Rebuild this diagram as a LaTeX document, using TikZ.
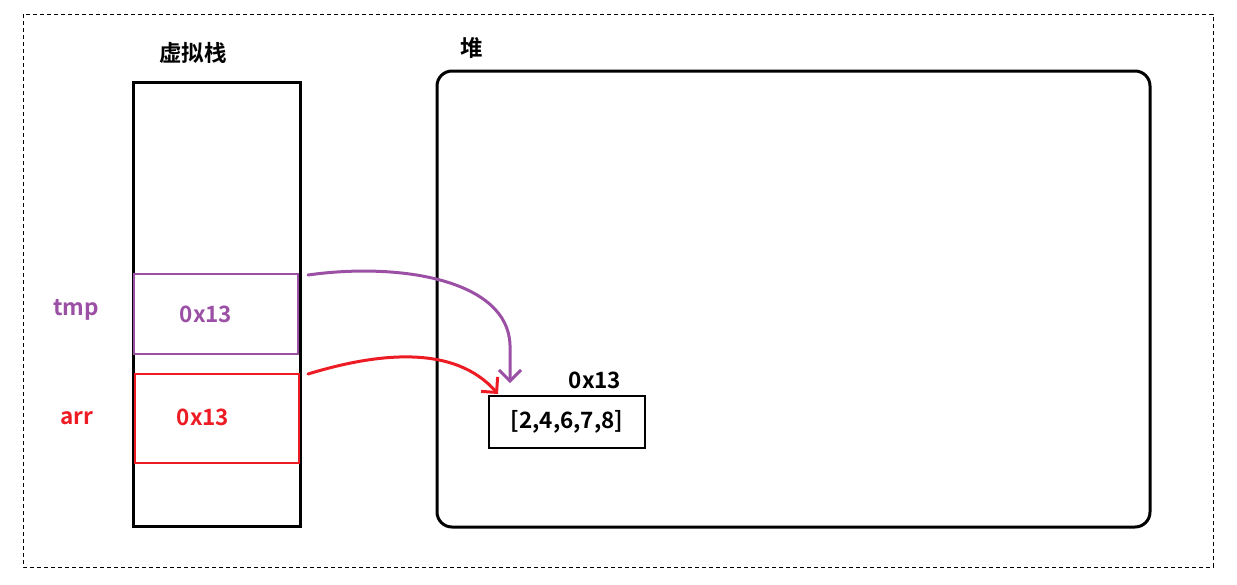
\documentclass[tikz,border=0pt]{standalone}
\usepackage{fontspec}
\setmainfont{Noto Sans CJK SC}[BoldFont={* Bold}]
\usetikzlibrary{arrows.meta}
\definecolor{vpurple}{RGB}{155,80,165}
\definecolor{vred}{RGB}{237,28,36}
\tikzset{
  lbl/.style={font=\fontsize{22.5}{26}\selectfont\bfseries, inner sep=0pt},
  slot/.style={draw, line width=2pt, minimum width=164pt, minimum height=80pt, inner sep=0pt},
  link/.style={line width=3pt, line cap=round, -{Straight Barb[length=11pt,width=22pt,line width=3pt]}}
}
\begin{document}
\begin{tikzpicture}[x=1pt,y=-1pt]
\useasboundingbox (0,0) rectangle (1237,584);
\draw[dashed, line width=0.8pt, dash pattern=on 4pt off 3pt] (23,14) rectangle (1213,567);
% stack
\node[lbl] (stacktitle) at (193,53) {虚拟栈};
\draw[line width=3pt] (133,82) rectangle (300,526);
\node[slot, draw=vpurple] (tmpbox) at (216,314) {};
\node[slot, draw=vred, minimum height=89pt] (arrbox) at (216.5,418.5) {};
\node[lbl, text=vpurple] at (206,314) {0x13};
\node[lbl, text=vred] at (203,417) {0x13};
\node[lbl, text=vpurple] (tmplbl) at (76,310) {tmp};
\node[lbl, text=vred] (arrlbl) at (77,418) {arr};
% heap
\node[lbl] (heaptitle) at (472,48) {堆};
\draw[line width=3pt, rounded corners=15pt] (437,71) rectangle (1150,527);
\node[draw, line width=2.5pt, minimum width=156pt, minimum height=52pt, inner sep=0pt, font=\fontsize{22.5}{26}\selectfont\bfseries] (val) at (567,422) {[2,4,6,7,8]};
\node[lbl] (addr) at (595,380) {0x13};
% connectors
\coordinate (ps) at (308,275);
\coordinate (pe) at (510,383);
\coordinate (rs) at (308,374);
\coordinate (re) at (498,394);
\draw[link, draw=vpurple] (ps) .. controls (400,262) and (508,280) .. (510,345) -- (pe);
\draw[link, draw=vred] (rs) .. controls (380,352) and (455,345) .. (re);
\end{tikzpicture}
\end{document}
